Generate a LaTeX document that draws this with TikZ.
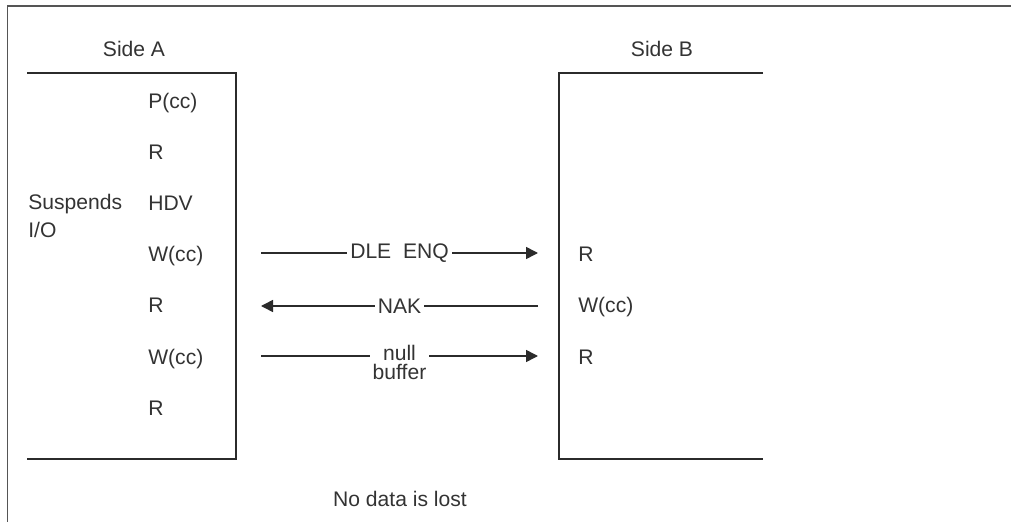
\documentclass[tikz,border=0pt]{standalone}
\usepackage{fontspec}
\setmainfont{Liberation Sans}
\usetikzlibrary{arrows.meta,positioning}
\definecolor{Ink}{HTML}{333333}
\definecolor{Rule}{HTML}{2B2B2B}
\definecolor{Frame}{HTML}{555555}

\begin{document}
\begin{tikzpicture}[
  txt/.style={text=Ink,font=\fontsize{15}{19.5}\selectfont,inner sep=0pt},
  row/.style={txt,anchor=base west},
  side/.style={line width=1.3pt,Rule},
  arrow/.style={-{Triangle[length=0.3cm,width=0.3cm]},line width=1.1pt,Rule},
  msg/.style={txt,fill=white,inner xsep=2pt,inner ysep=1pt}]
  \useasboundingbox (0,0) rectangle (25.275,-13.05);
  \draw[Frame,line width=0.9pt] (0.19,-13.05) -- (0.19,-0.15) -- (25.275,-0.15);

  \node[txt,anchor=base] (sa) at (3.35,-1.425) {Side A};
  \node[txt,anchor=base] (sb) at (16.55,-1.425) {Side B};
  \draw[side] (0.675,-1.825) -- (5.9,-1.825) -- (5.9,-11.475) -- (0.675,-11.475);
  \draw[side] (19.075,-1.825) -- (13.975,-1.825) -- (13.975,-11.475) -- (19.075,-11.475);

  \foreach \t [count=\i] in {P(cc),R,HDV,W(cc),R,W(cc),R}
    \node[row] (a\i) at (3.7,-1.45-1.275*\i) {\t};
  \foreach \t [count=\i from 4] in {R,W(cc),R}
    \node[row] (b\i) at (14.45,-1.45-1.275*\i) {\t};
  \node[row,align=left] (susp) at (0.7,-5.925) {Suspends\\I/O};

  \coordinate (p1) at (6.525,-6.325);
  \coordinate (q1) at (13.45,-6.325);
  \coordinate (p2) at (6.525,-7.65);
  \coordinate (q2) at (13.45,-7.65);
  \coordinate (p3) at (6.525,-8.9);
  \coordinate (q3) at (13.45,-8.9);
  \draw[arrow] (p1) -- node[msg] (m1) {DLE\ \ ENQ} (q1);
  \draw[arrow] (q2) -- node[msg] (m2) {NAK} (p2);
  \draw[arrow] (p3) -- node[msg,align=center,anchor=base,yshift=-0.575cm,
    font=\fontsize{15}{13.5}\selectfont] (m3) {null\\buffer} (q3);

  \node[txt,anchor=base] (lost) at (10,-12.65) {No data is lost};
\end{tikzpicture}
\end{document}
